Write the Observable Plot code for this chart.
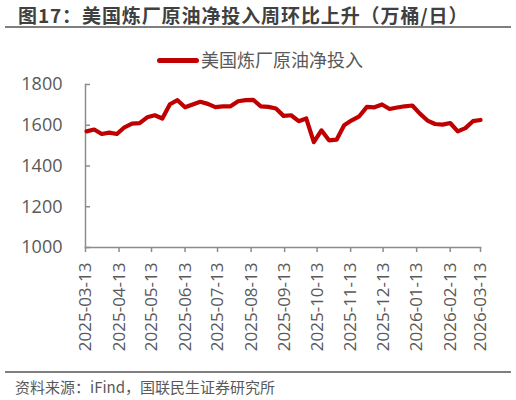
<!DOCTYPE html>
<html>
<head>
<meta charset="utf-8">
<script src="https://cdn.jsdelivr.net/npm/d3@7"></script>
<script src="https://cdn.jsdelivr.net/npm/@observablehq/plot@0.6"></script>
<style>
  html, body { margin: 0; padding: 0; background: #fff; }
  #wrap { position: relative; width: 516px; height: 400px; overflow: hidden; font-family: "Noto Sans CJK SC", "Noto Sans", sans-serif; }
  .abs { position: absolute; }
  #title { left: 18px; top: 1px; font-size: 19px; font-weight: bold; color: #404040; white-space: nowrap; letter-spacing: 0.9px; }
  .rule { left: 5px; width: 506px; height: 2px; background: #7f7f7f; }
  #legline { left: 157px; top: 58px; width: 42px; height: 5px; background: #C00000; border-radius: 2.5px; }
  #legtext { left: 201px; top: 46px; font-size: 18px; color: #595959; white-space: nowrap; }
  #source { left: 15px; top: 376px; font-size: 15px; color: #595959; white-space: nowrap; }
  #chart { left: 0; top: 70px; }
</style>
</head>
<body>
<div id="wrap">
  <div id="title" class="abs">图17：美国炼厂原油净投入周环比上升（万桶/日）</div>
  <div class="abs rule" style="top:26px"></div>
  <div id="legline" class="abs"></div>
  <div id="legtext" class="abs">美国炼厂原油净投入</div>
  <div id="chart" class="abs"></div>
  <div class="abs rule" style="top:371px"></div>
  <div id="source" class="abs">资料来源：iFind，国联民生证券研究所</div>
</div>
<script>
const seriesName = "美国炼厂原油净投入";
const dates = [
  "2025-03-14","2025-03-21","2025-03-28","2025-04-04","2025-04-11","2025-04-18","2025-04-25",
  "2025-05-02","2025-05-09","2025-05-16","2025-05-23","2025-05-30","2025-06-06","2025-06-13",
  "2025-06-20","2025-06-27","2025-07-04","2025-07-11","2025-07-18","2025-07-25","2025-08-01",
  "2025-08-08","2025-08-15","2025-08-22","2025-08-29","2025-09-05","2025-09-12","2025-09-19",
  "2025-09-26","2025-10-03","2025-10-10","2025-10-17","2025-10-24","2025-10-31","2025-11-07",
  "2025-11-14","2025-11-21","2025-11-28","2025-12-05","2025-12-12","2025-12-19","2025-12-26",
  "2026-01-02","2026-01-09","2026-01-16","2026-01-23","2026-01-30","2026-02-06","2026-02-13",
  "2026-02-20","2026-02-27","2026-03-06","2026-03-13"
];
const values = [
  1570,1579,1557,1564,1557,1590,1608,
  1610,1639,1649,1633,1703,1723,1688,
  1702,1715,1705,1689,1693,1693,1718,
  1723,1725,1693,1690,1682,1646,1649,
  1620,1633,1517,1575,1526,1529,1600,
  1624,1644,1690,1688,1702,1680,1687,
  1693,1697,1657,1623,1606,1603,1611,
  1570,1586,1620,1626
];
const xTickLabels = [
  "2025-03-13","2025-04-13","2025-05-13","2025-06-13","2025-07-13","2025-08-13","2025-09-13",
  "2025-10-13","2025-11-13","2025-12-13","2026-01-13","2026-02-13","2026-03-13"
];
const yTicks = [1000, 1200, 1400, 1600, 1800];

const parse = d3.utcParse("%Y-%m-%d");
const data = dates.map((d, i) => ({date: parse(d), value: values[i]}));
const xTicks = xTickLabels.map(parse);
const axisColor = "#8c8c8c";
const textColor = "#595959";
const numFont = "'Open Sans', 'Noto Sans', sans-serif";

const chart = Plot.plot({
  width: 516,
  height: 300,
  marginLeft: 85,
  marginRight: 36,
  marginTop: 14,
  marginBottom: 123,
  style: {fontFamily: numFont, background: "transparent", overflow: "visible"},
  x: {type: "utc", domain: [xTicks[0], xTicks[xTicks.length - 1]]},
  y: {domain: [1000, 1800]},
  marks: [
    Plot.frame({anchor: "left", stroke: axisColor, strokeWidth: 1.5}),
    Plot.frame({anchor: "bottom", stroke: axisColor, strokeWidth: 1.5}),
    Plot.axisY({ticks: yTicks, tickSize: 5, dx: 5, fill: "none", stroke: axisColor, strokeWidth: 1.5, label: null}),
    Plot.axisY({ticks: yTicks, tickSize: 0, tickPadding: 23, fill: textColor, fontSize: 18, label: null, tickFormat: d => String(d)}),
    Plot.axisX({ticks: xTicks, tickSize: 5, stroke: axisColor, strokeWidth: 1.5, tickPadding: 10, tickRotate: -90,
      fill: textColor, fontSize: 17, label: null, tickFormat: d3.utcFormat("%Y-%m-%d"), style: {letterSpacing: "1px"}}),
    Plot.line(data, {x: "date", y: "value", stroke: "#C00000", strokeWidth: 4.2, strokeLinejoin: "round", strokeLinecap: "round", title: () => seriesName})
  ]
});
document.getElementById("chart").appendChild(chart);
</script>
</body>
</html>
